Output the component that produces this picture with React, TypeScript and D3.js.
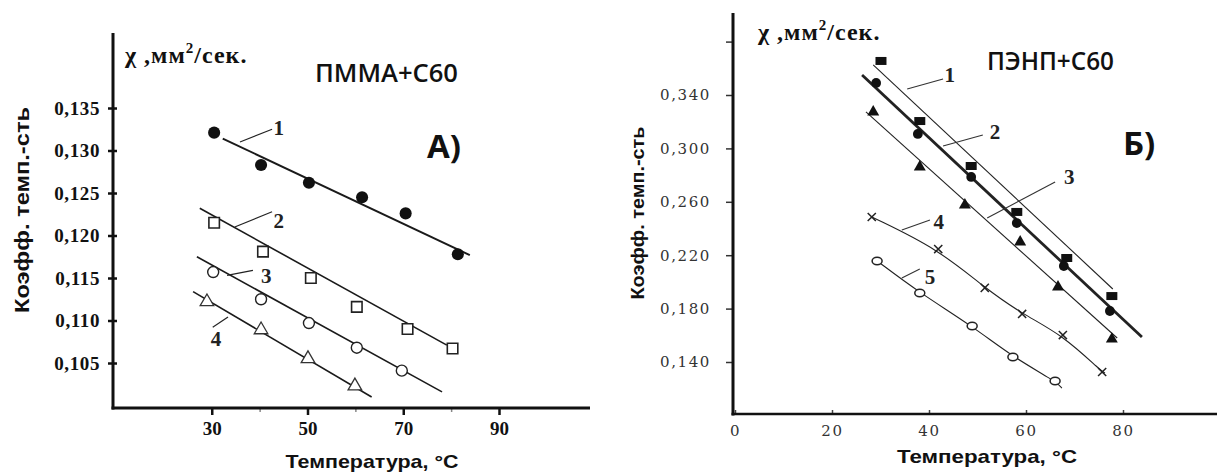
import * as d3 from 'd3';
import { useEffect, useRef } from 'react';

// ---------- panel A: ПММА+С60 ----------
const pmmaXTicks = [30, 50, 70, 90];
const pmmaXMinor = [40, 60, 80];
const pmmaYTicks = [0.105, 0.11, 0.115, 0.12, 0.125, 0.13, 0.135];

const pmmaT1 = [30.5, 40.3, 50.3, 61.4, 70.5, 81.4];
const pmmaK1 = [0.1321, 0.1283, 0.1262, 0.1245, 0.1226, 0.1178];
const pmmaT2 = [30.5, 40.7, 50.7, 60.3, 70.9, 80.3];
const pmmaK2 = [0.1215, 0.1181, 0.115, 0.1116, 0.109, 0.1067];
const pmmaT3 = [30.3, 40.3, 50.3, 60.3, 69.7];
const pmmaK3 = [0.1157, 0.1125, 0.1097, 0.1068, 0.1041];
const pmmaT4 = [29.0, 40.3, 50.1, 59.9];
const pmmaK4 = [0.1122, 0.1089, 0.1055, 0.1023];

// hand drawn trend lines [t0, k0, t1, k1]
const pmmaTrend = [
  [32.3, 0.1314, 83.9, 0.1177],
  [27.5, 0.1232, 79.1, 0.1071],
  [26.9, 0.1175, 78.1, 0.1016],
  [26.1, 0.1134, 63.4, 0.101],
];
const pmmaLabelText = ['1', '2', '3', '4'];
const pmmaLabelAt = [
  [44.0, 0.1327],
  [44.0, 0.1218],
  [41.4, 0.1153],
  [30.9, 0.1079],
];
const pmmaLeaders = [
  [35.9, 0.131, 42.6, 0.1325],
  [34.8, 0.121, 42.6, 0.1228],
  [33.2, 0.1153, 38.6, 0.1159],
  [30.2, 0.1092, 33.4, 0.1104],
];

// ---------- panel B: ПЭНП+С60 ----------
const peXTicks = [0, 20, 40, 60, 80, 100];
const peYTicks = [0.14, 0.18, 0.22, 0.26, 0.3, 0.34, 0.38];

const peT1 = [30.1, 38.1, 48.7, 58.1, 68.4, 77.7];
const peK1 = [0.3655, 0.3205, 0.2868, 0.2524, 0.2179, 0.1894];
const peT2 = [29.1, 37.7, 48.7, 58.1, 67.8, 77.3];
const peK2 = [0.349, 0.3108, 0.2786, 0.2441, 0.2119, 0.1782];
const peT3 = [28.5, 38.1, 47.4, 58.8, 66.6, 77.7];
const peK3 = [0.3273, 0.2861, 0.2576, 0.2299, 0.1962, 0.1572];
const peT4 = [28.2, 41.9, 51.5, 59.2, 67.6, 75.7];
const peK4 = [0.2486, 0.2246, 0.1955, 0.176, 0.1602, 0.1325];
const peT5 = [29.3, 38.1, 48.9, 57.3, 66.0];
const peK5 = [0.2157, 0.1917, 0.167, 0.1437, 0.1258];

const peTrend = [
  [28.5, 0.3625, 77.9, 0.1947],
  [26.2, 0.355, 83.9, 0.1587],
  [27.0, 0.3273, 78.8, 0.158],
];
const peCurveEnd = [
  [76.3, 0.1318],
  [67.4, 0.1205],
];
const peLabelText = ['1', '2', '3', '4', '5'];
const peLabelAt = [
  [44.3, 0.355],
  [53.6, 0.3123],
  [68.9, 0.2786],
  [42.0, 0.2449],
  [40.2, 0.2036],
];
const peLeaders = [
  [35.5, 0.3445, 42.9, 0.352],
  [42.9, 0.3018, 51.1, 0.3101],
  [52.0, 0.2479, 66.0, 0.2749],
  [34.4, 0.2389, 40.2, 0.2464],
  [34.4, 0.2029, 38.1, 0.2096],
];

const serif = "'Liberation Serif', 'Times New Roman', serif";
const sans = "'Liberation Sans', Arial, sans-serif";
const headFont = "'Open Sans', 'Liberation Sans', sans-serif";
const comma = (d: any) => d3.format('.3f')(+d).replace('.', ',');

const App = () => {
  const ref = useRef<SVGSVGElement>(null);

  useEffect(() => {
    const svg = d3.select(ref.current);
    svg.selectAll('*').remove();
    svg.append('rect').attr('width', 1217).attr('height', 475).attr('fill', '#fff');

    const marks = (g: any, xs: number[], ys: number[], x: any, y: any, d: string, fill: string, stroke: string, sw: number) => {
      g.append('g')
        .selectAll('path')
        .data(d3.zip(xs, ys))
        .join('path')
        .attr('d', d)
        .attr('transform', (p: number[]) => `translate(${x(p[0])},${y(p[1])})`)
        .attr('fill', fill)
        .attr('stroke', stroke)
        .attr('stroke-width', sw);
    };
    const seg = (g: any, x: any, y: any, s: number[], color: string, w: number) => {
      g.append('path')
        .attr('d', d3.line()([[x(s[0]), y(s[1])], [x(s[2]), y(s[3])]]))
        .attr('fill', 'none')
        .attr('stroke', color)
        .attr('stroke-width', w);
    };
    const sym = (type: any, size: number) => d3.symbol().type(type).size(size)() as string;
    const unitLabel = (g: any, x0: number, y0: number) => {
      const unit = g
        .append('text')
        .attr('x', x0)
        .attr('y', y0)
        .attr('font-family', serif)
        .attr('font-weight', 700)
        .attr('font-size', 24)
        .attr('letter-spacing', 1)
        .attr('fill', '#111');
      unit.append('tspan').text('χ ,мм');
      unit.append('tspan').attr('dy', -10).attr('font-size', 15).text('2');
      unit.append('tspan').attr('dy', 10).text('/сек.');
    };

    // ===== panel A =====
    {
      const x = d3.scaleLinear([10, 90], [116, 499]);
      const y = d3.scaleLinear([0.105, 0.135], [363, 108]);
      const g = svg.append('g');

      const ya = g
        .append('g')
        .attr('transform', 'translate(113,0)')
        .call(d3.axisLeft(y).tickValues(pmmaYTicks).tickFormat(comma).tickSize(5).tickPadding(8) as any);
      ya.select('.domain').remove();
      ya.selectAll('line').attr('x1', 4).attr('stroke', '#111').attr('stroke-width', 2.5);
      ya.selectAll('text')
        .attr('font-family', serif)
        .attr('font-weight', 700)
        .attr('font-size', 19)
        .attr('letter-spacing', 0.6)
        .attr('fill', '#111');

      const xa = g
        .append('g')
        .attr('transform', 'translate(0,408)')
        .call(d3.axisBottom(x).tickValues(pmmaXTicks).tickFormat(d3.format('d') as any).tickSize(7).tickPadding(7) as any);
      xa.select('.domain').remove();
      xa.selectAll('line').attr('stroke', '#111').attr('stroke-width', 2.5);
      xa.selectAll('text').attr('font-family', serif).attr('font-weight', 700).attr('font-size', 19).attr('fill', '#111');

      const xm = g
        .append('g')
        .attr('transform', 'translate(0,408)')
        .call(d3.axisBottom(x).tickValues(pmmaXMinor).tickFormat(() => '').tickSize(4) as any);
      xm.select('.domain').remove();
      xm.selectAll('line').attr('stroke', '#888').attr('stroke-width', 1.5);

      g.append('line').attr('x1', 113).attr('x2', 113).attr('y1', 33).attr('y2', 409.5).attr('stroke', '#111').attr('stroke-width', 3);
      g.append('line').attr('x1', 111.5).attr('x2', 590).attr('y1', 408).attr('y2', 408).attr('stroke', '#111').attr('stroke-width', 3);

      pmmaTrend.forEach((s, i) => seg(g, x, y, s, '#1a1a1a', i === 0 ? 2 : 1.6));
      pmmaLeaders.forEach((s) => seg(g, x, y, s, '#222', 1.2));

      marks(g, pmmaT1, pmmaK1, x, y, sym(d3.symbolCircle, 115), '#111', 'none', 0);
      marks(g, pmmaT2, pmmaK2, x, y, sym(d3.symbolSquare, 110), '#fff', '#222', 1.6);
      marks(g, pmmaT3, pmmaK3, x, y, sym(d3.symbolCircle, 95), '#fff', '#222', 1.4);
      marks(g, pmmaT4, pmmaK4, x, y, sym(d3.symbolTriangle, 80), '#fff', '#333', 1.3);

      g.append('g')
        .selectAll('text')
        .data(pmmaLabelText)
        .join('text')
        .attr('x', (_: string, i: number) => x(pmmaLabelAt[i][0]))
        .attr('y', (_: string, i: number) => y(pmmaLabelAt[i][1]))
        .attr('dy', '0.35em')
        .attr('text-anchor', 'middle')
        .attr('font-family', serif)
        .attr('font-size', 21)
        .attr('font-weight', 600)
        .attr('fill', '#222')
        .text((d: string) => d);

      unitLabel(g, 125, 63);

      g.append('text')
        .attr('x', 315)
        .attr('y', 82)
        .attr('font-family', headFont)
        .attr('font-weight', 600)
        .attr('font-size', 25)
        .attr('textLength', 143)
        .attr('lengthAdjust', 'spacingAndGlyphs')
        .attr('fill', '#111')
        .text('ПММА+С60');
      g.append('text').attr('x', 427).attr('y', 158).attr('font-family', headFont).attr('font-weight', 700).attr('font-size', 33).attr('fill', '#111').text('А)');

      g.append('text')
        .attr('transform', 'translate(29,210) rotate(-90)')
        .attr('text-anchor', 'middle')
        .attr('font-family', sans)
        .attr('font-weight', 700)
        .attr('font-size', 20)
        .attr('textLength', 206)
        .attr('lengthAdjust', 'spacingAndGlyphs')
        .attr('fill', '#111')
        .text('Коэфф. темп.-сть');
      g.append('text')
        .attr('x', 372)
        .attr('y', 468)
        .attr('text-anchor', 'middle')
        .attr('font-family', sans)
        .attr('font-weight', 700)
        .attr('font-size', 19)
        .attr('textLength', 173)
        .attr('lengthAdjust', 'spacingAndGlyphs')
        .attr('fill', '#111')
        .text('Температура, °C');
    }

    // ===== panel B =====
    {
      const x = d3.scaleLinear([0, 80], [735, 1123]);
      const y = d3.scaleLinear([0.14, 0.34], [362, 95]);
      const g = svg.append('g');

      const ya = g
        .append('g')
        .attr('transform', 'translate(733,0)')
        .call(d3.axisLeft(y).tickValues(peYTicks).tickFormat((d: any) => (+d > 0.37 ? '' : comma(d))).tickSize(7).tickPadding(15) as any);
      ya.select('.domain').remove();
      ya.selectAll('line').attr('stroke', '#333').attr('stroke-width', 1.5);
      ya.selectAll('text')
        .attr('font-family', "'DejaVu Serif', serif")
        .attr('font-size', 15)
        .attr('letter-spacing', 1.6)
        .attr('fill', '#333');

      const xa = g
        .append('g')
        .attr('transform', 'translate(0,414)')
        .call(d3.axisBottom(x).tickValues(peXTicks).tickFormat((d: any) => (+d > 90 ? '' : String(d))).tickSize(-4).tickPadding(11) as any);
      xa.select('.domain').remove();
      xa.selectAll('line').attr('stroke', '#444').attr('stroke-width', 1.5);
      xa.selectAll('text')
        .attr('font-family', "'DejaVu Serif', serif")
        .attr('font-size', 15)
        .attr('letter-spacing', 1.6)
        .attr('fill', '#333');

      g.append('line').attr('x1', 733).attr('x2', 733).attr('y1', 13).attr('y2', 415.5).attr('stroke', '#111').attr('stroke-width', 3);
      g.append('line').attr('x1', 731.5).attr('x2', 1217).attr('y1', 414).attr('y2', 414).attr('stroke', '#111').attr('stroke-width', 2.5);

      peTrend.forEach((s, i) => seg(g, x, y, s, '#222', i === 1 ? 2.8 : 1.1));
      const curve = d3.line().curve(d3.curveBasis);
      [
        [peT4, peK4],
        [peT5, peK5],
      ].forEach(([ts, ks], i) => {
        const pts: [number, number][] = ts.map((t, j) => [x(t), y(ks[j])]);
        pts.push([x(peCurveEnd[i][0]), y(peCurveEnd[i][1])]);
        g.append('path').attr('d', curve(pts)).attr('fill', 'none').attr('stroke', '#222').attr('stroke-width', 1.1);
      });
      peLeaders.forEach((s) => seg(g, x, y, s, '#333', 1.1));

      marks(g, peT1, peK1, x, y, 'M-5.5,-4h11v8h-11z', '#111', 'none', 0);
      marks(g, peT2, peK2, x, y, sym(d3.symbolCircle, 75), '#111', 'none', 0);
      marks(g, peT3, peK3, x, y, sym(d3.symbolTriangle, 62), '#111', 'none', 0);
      marks(g, peT4, peK4, x, y, sym(d3.symbolX, 45), 'none', '#222', 1.5);
      marks(g, peT5, peK5, x, y, 'M-5,0a5,3.8 0 1,0 10,0a5,3.8 0 1,0 -10,0', '#fff', '#222', 1.5);

      g.append('g')
        .selectAll('text')
        .data(peLabelText)
        .join('text')
        .attr('x', (_: string, i: number) => x(peLabelAt[i][0]))
        .attr('y', (_: string, i: number) => y(peLabelAt[i][1]))
        .attr('dy', '0.35em')
        .attr('text-anchor', 'middle')
        .attr('font-family', serif)
        .attr('font-size', 21)
        .attr('font-weight', 600)
        .attr('fill', '#222')
        .text((d: string) => d);

      unitLabel(g, 758, 40);

      g.append('text')
        .attr('x', 987)
        .attr('y', 70)
        .attr('font-family', headFont)
        .attr('font-weight', 600)
        .attr('font-size', 25)
        .attr('textLength', 127)
        .attr('lengthAdjust', 'spacingAndGlyphs')
        .attr('fill', '#111')
        .text('ПЭНП+С60');
      g.append('text').attr('x', 1123).attr('y', 155).attr('font-family', headFont).attr('font-weight', 700).attr('font-size', 33).attr('fill', '#111').text('Б)');

      g.append('text')
        .attr('transform', 'translate(644,213) rotate(-90)')
        .attr('text-anchor', 'middle')
        .attr('font-family', sans)
        .attr('font-weight', 700)
        .attr('font-size', 18)
        .attr('textLength', 173)
        .attr('lengthAdjust', 'spacingAndGlyphs')
        .attr('fill', '#111')
        .text('Коэфф. темп.-сть');
      g.append('text')
        .attr('x', 987)
        .attr('y', 463)
        .attr('text-anchor', 'middle')
        .attr('font-family', sans)
        .attr('font-weight', 700)
        .attr('font-size', 19)
        .attr('textLength', 180)
        .attr('lengthAdjust', 'spacingAndGlyphs')
        .attr('fill', '#111')
        .text('Температура, °C');
    }
  }, []);

  return <svg ref={ref} width={1217} height={475} style={{ position: 'absolute', left: 0, top: 0, display: 'block' }} />;
};

export default App;
